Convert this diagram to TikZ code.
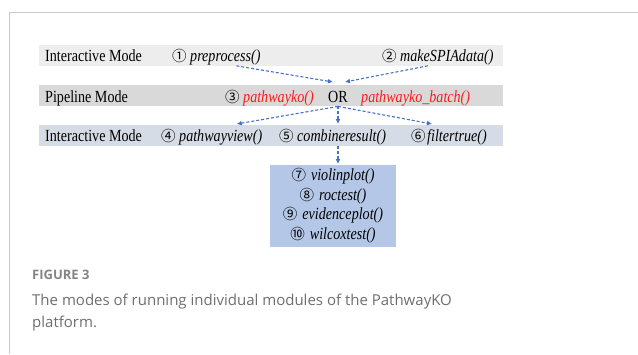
\documentclass[tikz,border=0pt]{standalone}
\usepackage{fontspec}
\setsansfont{Open Sans}
\newfontfamily\tnr[FakeStretch=0.83]{Liberation Serif}
\newfontfamily\cjk{Noto Sans CJK SC}
\usetikzlibrary{positioning,calc,arrows.meta}

\definecolor{framegray}{HTML}{C8C8C8}
\definecolor{barone}{HTML}{EDEDED}
\definecolor{bartwo}{HTML}{D9D9D9}
\definecolor{barthree}{HTML}{D6DCE5}
\definecolor{plotbox}{HTML}{B4C7E7}
\definecolor{flowblue}{HTML}{4472C4}
\definecolor{fnred}{HTML}{FF1A1A}
\definecolor{capgray}{HTML}{6E6E6E}

% circled step numbers
\newcommand{\cnum}[1]{{\cjk\fontsize{14.5}{14.5}\selectfont #1}}

\tikzset{
  bar/.style = {anchor=north west, minimum width=464pt, minimum height=21pt, inner sep=0},
  txt/.style = {anchor=base west, inner sep=1pt, font=\tnr\fontsize{17}{18}\selectfont},
  fn/.style = {txt, font=\tnr\itshape\fontsize{17}{18}\selectfont},
  flow/.style = {draw=flowblue, line width=1.1pt, dash pattern=on 3pt off 2pt,
                 -{Latex[length=5pt,width=5pt]}}
}

\begin{document}
\begin{tikzpicture}[x=1pt, y=-1pt]
  \useasboundingbox (0,0) rectangle (638,354);
  \draw [framegray, line width=1pt] (9,354) -- (9,12) -- (638,12);

  % the three mode bars
  \node [bar, fill=barone] (bar1) at (39,45) {};
  \node [bar, fill=bartwo] (bar2) at (39,85) {};
  \node [bar, fill=barthree] (bar3) at (39,125) {};
  \node [anchor=north west, fill=plotbox, minimum width=126pt, minimum height=82pt, inner sep=0] (plots) at (270,165) {};

  % row 1
  \node [txt] (mode1) at (44,61) {Interactive Mode};
  \node [txt] (n1) at (171,61) {\cnum{①}};
  \node [fn] (pre) at (189,61) {preprocess()};
  \node [txt] (n2) at (381,61) {\cnum{②}};
  \node [fn] (make) at (399,61) {makeSPIAdata()};

  % row 2
  \node [txt] (mode2) at (44,102) {Pipeline Mode};
  \node [txt] (n3) at (224,102) {\cnum{③}};
  \node [fn, text=fnred] (pko) at (242,102) {pathwayko()};
  \node [txt] (or) at (327,102) {OR};
  \node [fn, text=fnred] (pkob) at (360,102) {pathwayko\_batch()};

  % row 3
  \node [txt] (mode3) at (44,141) {Interactive Mode};
  \node [txt] (n4) at (160,141) {\cnum{④}};
  \node [fn] (view) at (178,141) {pathwayview()};
  \node [txt] (n5) at (278,141) {\cnum{⑤}};
  \node [fn] (comb) at (296,141) {combineresult()};
  \node [txt] (n6) at (410,141) {\cnum{⑥}};
  \node [fn] (filt) at (426,141) {filtertrue()};

  % plotting functions
  \foreach \n/\f/\y in {⑦/violinplot()/180, ⑧/roctest()/200, ⑨/evidenceplot()/219.5, ⑩/wilcoxtest()/239}
    \node [fn, anchor=base] at (333,\y) {\cnum{\n}\hspace{5pt}\f};

  % flow between the modes
  \draw [flow] ([xshift=11pt]pre.south) -- ($(or |- bar2.north)+(-5,-3)$);
  \draw [flow] ([xshift=-19pt]make.south) -- ($(or |- bar2.north)+(7,-3)$);
  \draw [flow] (or |- bar2.south) -- ($(view.center |- bar3.north)+(16,-1)$);
  \draw [flow] (or |- bar2.south) -- ($(or |- bar3.north)+(0,-1)$);
  \draw [flow] (or |- bar2.south) -- ($(filt.center |- bar3.north)+(-25,-1)$);
  \draw [flow] (or |- bar3.south) -- ($(or |- plots.north)+(0,-1)$);

  % caption
  \node [anchor=base west, inner sep=0, text=capgray!85, font=\sffamily\bfseries\fontsize{13}{13}\selectfont] (fig) at (32,279) {FIGURE 3};
  \node [anchor=base west, inner sep=0, text=capgray, font=\sffamily\fontsize{15}{15}\selectfont] (cap1) at (32,305) {The modes of running individual modules of the PathwayKO};
  \node [anchor=base west, inner sep=0, text=capgray, font=\sffamily\fontsize{15}{15}\selectfont] (cap2) at (32,327) {platform.};
\end{tikzpicture}
\end{document}
